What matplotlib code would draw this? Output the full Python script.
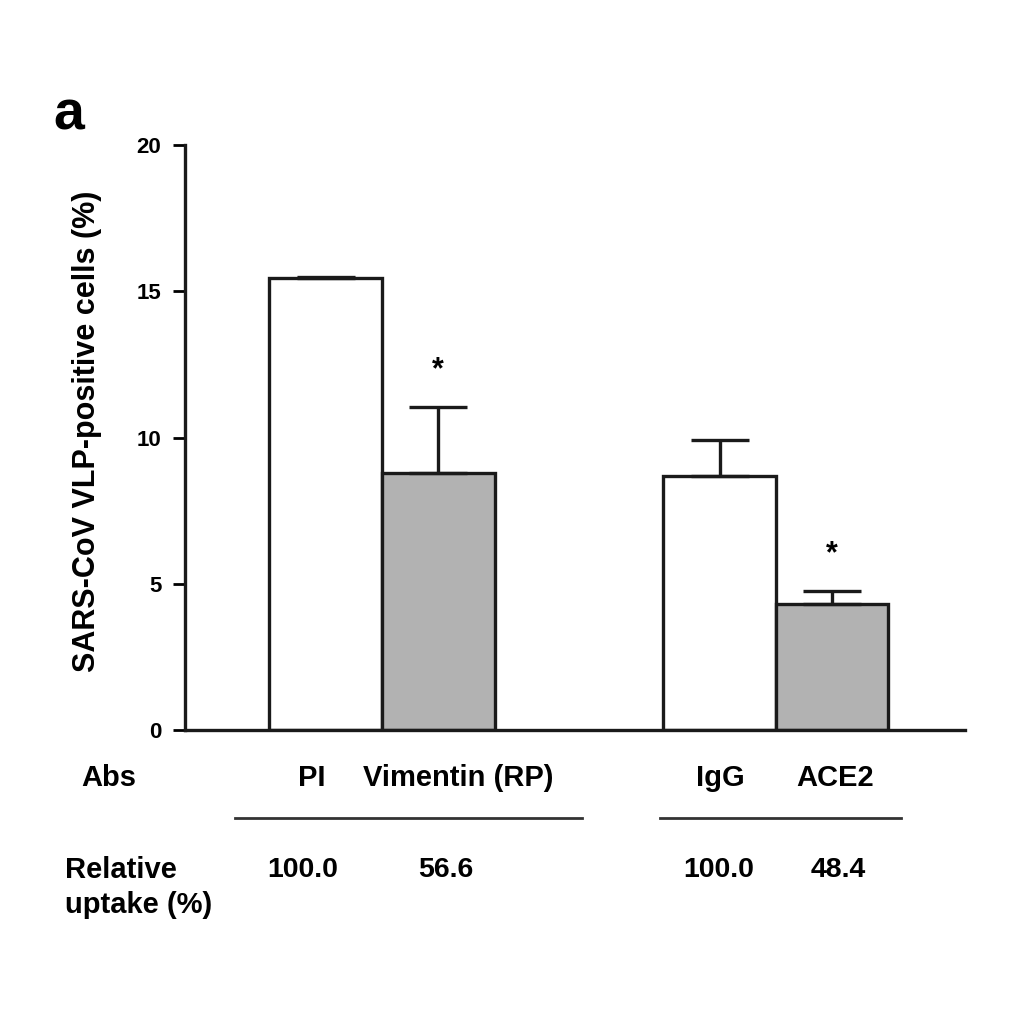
import matplotlib.pyplot as plt
import matplotlib.transforms as mtransforms

plt.rcParams['font.family'] = ['Liberation Sans', 'DejaVu Sans']
plt.rcParams['font.weight'] = 'bold'
plt.rcParams['axes.labelweight'] = 'bold'

# values
groups = ['PI', 'Vimentin (RP)', 'IgG', 'ACE2']
means = [15.45, 8.8, 8.7, 4.3]
errs = [0.03, 2.25, 1.2, 0.45]
fills = ['white', '#b2b2b2', 'white', '#b2b2b2']
signif = [False, True, False, True]
uptake = ['100.0', '56.6', '100.0', '48.4']

xpos = [1.25, 2.25, 4.75, 5.75]
name_x = [1.13, 2.43, 4.76, 5.78]
val_x = [1.05, 2.32, 4.74, 5.80]

fig = plt.figure(figsize=(10.24, 10.24), dpi=100)
ax = fig.add_axes([185/1024, 294/1024, 780/1024, 585/1024])

ax.bar(xpos, means, width=1.0, color=fills, edgecolor='#1a1a1a', linewidth=2.4, zorder=2)
ax.errorbar(xpos, means, yerr=[[0]*4, errs], fmt='none', ecolor='#1a1a1a',
            elinewidth=2.4, capsize=21, capthick=2.4, zorder=3)
for x, m, e, s in zip(xpos, means, errs, signif):
    if s:
        ax.text(x, m + e + 1.25, '*', ha='center', va='center', fontsize=22)

ax.set_xlim(0, 6.93)
ax.set_ylim(0, 20)
ax.set_yticks([0, 5, 10, 15, 20])
ax.set_xticks([])
ax.spines['top'].set_visible(False)
ax.spines['right'].set_visible(False)
ax.spines['left'].set_linewidth(2.4)
ax.spines['bottom'].set_linewidth(2.4)
ax.spines['left'].set_color('#1a1a1a')
ax.spines['bottom'].set_color('#1a1a1a')
ax.tick_params(axis='y', direction='out', length=9, width=2, labelsize=16, pad=8)
ax.set_ylabel('SARS-CoV VLP-positive cells (%)', fontsize=22)
ax.yaxis.set_label_coords(-0.106, 0.51)

# rows below the axis
trans = mtransforms.blended_transform_factory(ax.transData, ax.transAxes)
ax.text(-0.92, -0.082, 'Abs', transform=trans, ha='left', va='center', fontsize=21)
for x, g in zip(name_x, groups):
    ax.text(x, -0.082, g, transform=trans, ha='center', va='center', fontsize=21)
for x0, x1 in [(0.44, 3.53), (4.22, 6.36)]:
    ax.plot([x0, x1], [-0.15, -0.15], transform=trans, color='#333333', lw=2, clip_on=False)
ax.text(-1.07, -0.269, 'Relative\nuptake (%)', transform=trans, ha='left', va='center',
        fontsize=21, linespacing=1.3)
for x, v in zip(val_x, uptake):
    ax.text(x, -0.239, v, transform=trans, ha='center', va='center', fontsize=20.5)

fig.text(0.052, 1 - 115/1024, 'a', fontsize=40, va='center', ha='left')

plt.savefig('out.png', dpi=100)
